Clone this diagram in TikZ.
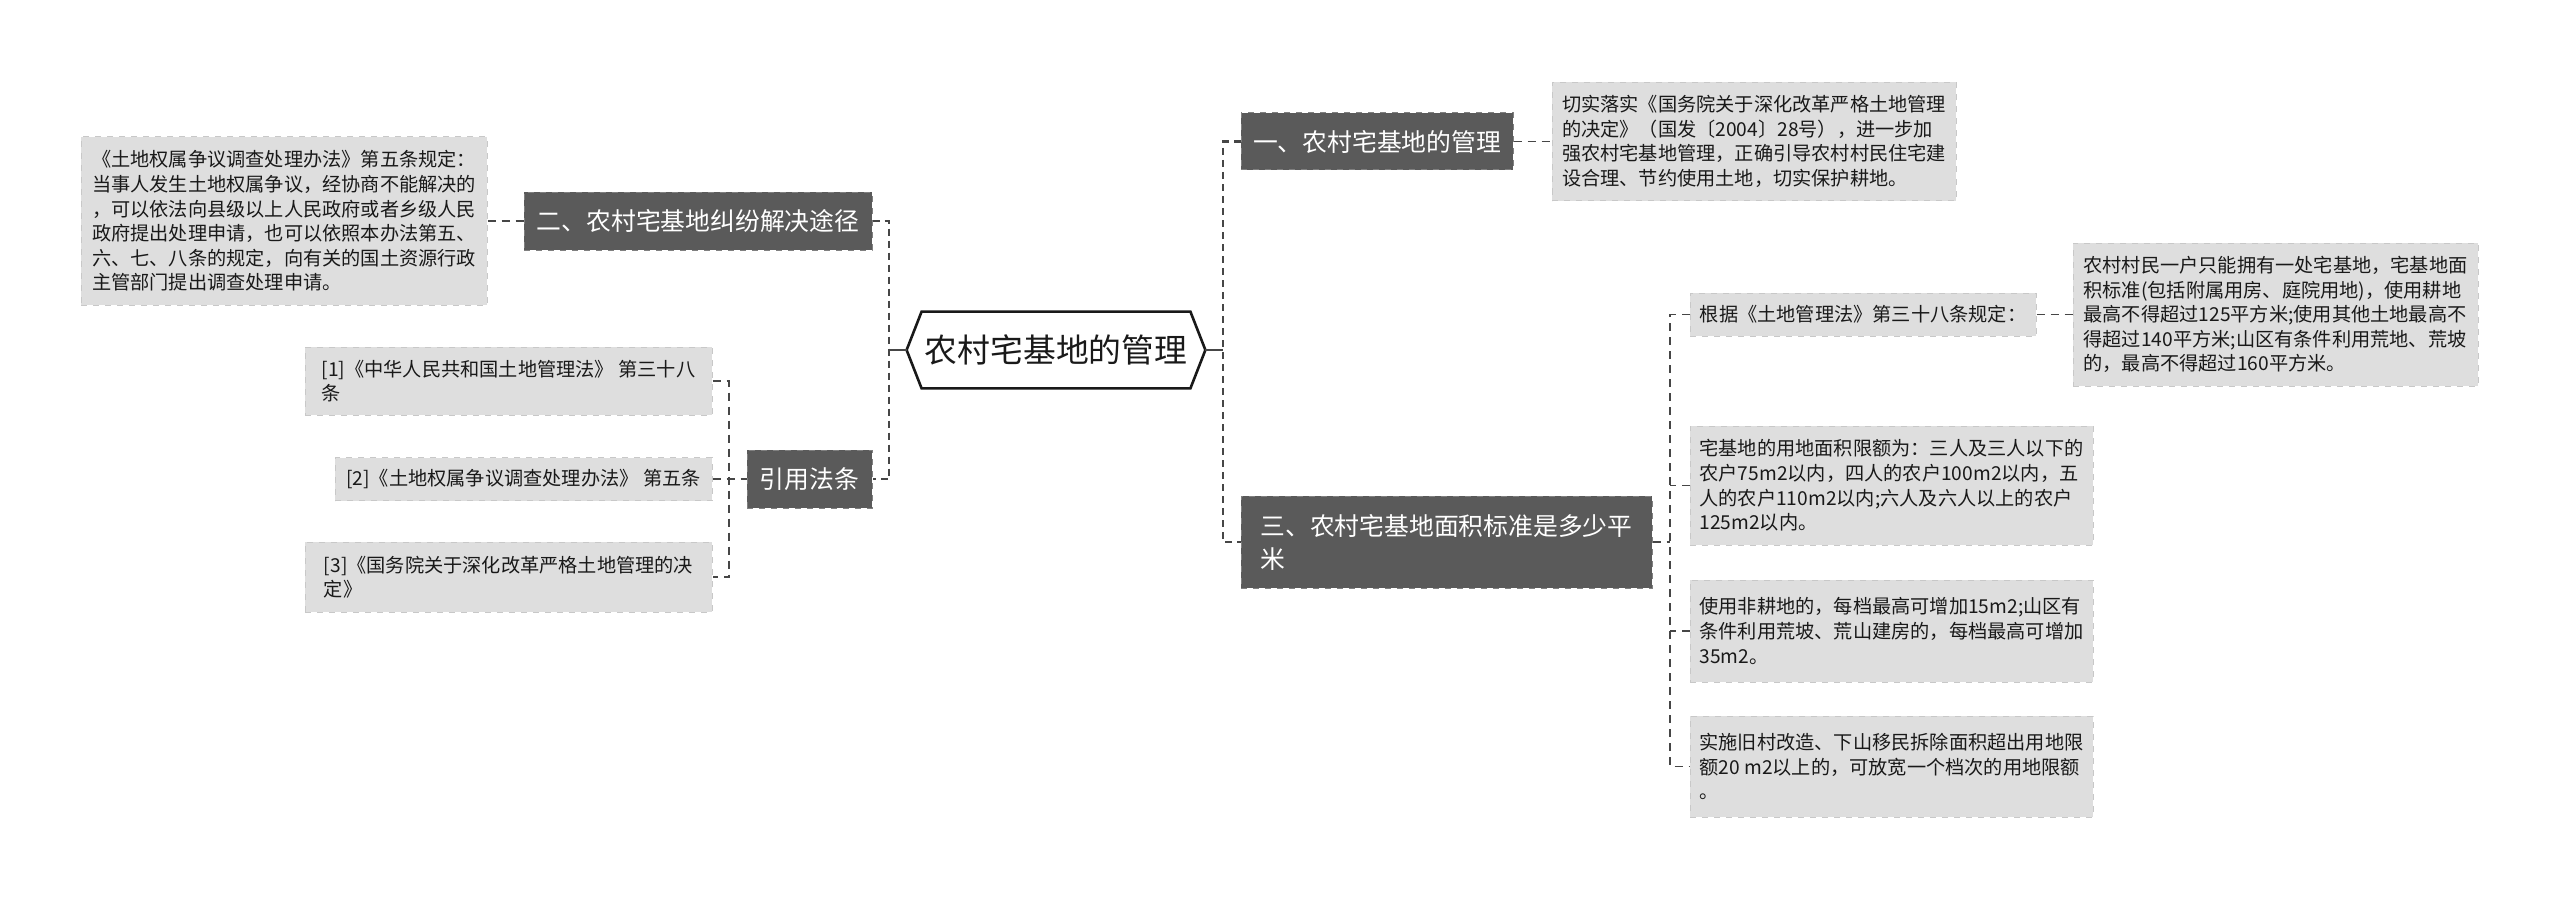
\documentclass[tikz,border=0pt]{standalone}
\usepackage{fontspec}
\setmainfont{Noto Sans CJK SC}
\usetikzlibrary{positioning}
\definecolor{secfill}{RGB}{90,90,90}
\definecolor{secedge}{RGB}{128,128,128}
\definecolor{leaffill}{RGB}{222,222,222}
\definecolor{leafedge}{RGB}{200,200,200}
\definecolor{lnclr}{RGB}{70,70,70}
\definecolor{txtclr}{RGB}{25,25,25}
\tikzset{
  rootblk/.style={minimum width=149pt,minimum height=38pt,inner sep=0pt,font=\fontsize{16.4pt}{20pt}\selectfont,text=black!90},
  hexln/.style={draw=black!90,line width=1.3pt,line join=miter},
  secblk/.style={draw=secedge,dashed,fill=secfill,text=white,line width=0.5pt,align=left,inner sep=4pt,font=\fontsize{12.4pt}{16.5pt}\selectfont},
  leafblk/.style={draw=leafedge,dashed,fill=leaffill,text=txtclr,line width=0.5pt,align=left,inner sep=3pt,font=\fontsize{9.6pt}{12.3pt}\selectfont},
  trkln/.style={draw=lnclr,line width=1.4pt,dash pattern=on 3.5pt off 2.5pt},
  twgln/.style={draw=lnclr,line width=0.85pt,dash pattern=on 4pt off 3pt},
  stbln/.style={draw=lnclr,line width=1.3pt}
}

\begin{document}
\begin{tikzpicture}[x=0.5pt,y=-0.5pt]
  \useasboundingbox (0,0) rectangle (2560,899);

  \node[rootblk] (root) at (1056,350) {农村宅基地的管理};
  \draw[hexln] (root.west) -- ([xshift=7.5pt]root.north west) -- ([xshift=-7.5pt]root.north east) -- (root.east) -- ([xshift=-7.5pt]root.south east) -- ([xshift=7.5pt]root.south west) -- cycle;

  \node[secblk,minimum width=174pt,minimum height=29pt] (sec2) at (698,221) {二、农村宅基地纠纷解决途径};
  \node[leafblk,minimum width=203pt,minimum height=84pt,left=18pt of sec2] (sec2txt) {《土地权属争议调查处理办法》第五条规定：\\当事人发生土地权属争议，经协商不能解决的\\，可以依法向县级以上人民政府或者乡级人民\\政府提出处理申请，也可以依照本办法第五、\\六、七、八条的规定，向有关的国土资源行政\\主管部门提出调查处理申请。};

  \node[secblk,minimum width=62.5pt,minimum height=29pt] (cite) at (809.5,479) {引用法条};
  \node[leafblk,minimum width=203.5pt,minimum height=34pt] (cite1) at (508.5,381) {[1]《中华人民共和国土地管理法》 第三十八\\条};
  \node[leafblk,minimum width=188.5pt,minimum height=21.5pt] (cite2) at (523.5,479) {[2]《土地权属争议调查处理办法》 第五条};
  \node[leafblk,minimum width=203.5pt,minimum height=35pt] (cite3) at (508.5,577) {[3]《国务院关于深化改革严格土地管理的决\\定》};

  \node[secblk,minimum width=136pt,minimum height=28.5pt] (sec1) at (1377,141.5) {一、农村宅基地的管理};
  \node[leafblk,minimum width=202pt,minimum height=59pt,right=19pt of sec1] (sec1txt) {切实落实《国务院关于深化改革严格土地管理\\的决定》（国发〔2004〕28号），进一步加\\强农村宅基地管理，正确引导农村村民住宅建\\设合理、节约使用土地，切实保护耕地。};

  \node[secblk,minimum width=205.5pt,minimum height=46pt] (sec3) at (1446.5,542) {三、农村宅基地面积标准是多少平\\米};
  \node[leafblk,minimum width=173pt,minimum height=21.5pt] (std1) at (1863,314.5) {根据《土地管理法》第三十八条规定：};
  \node[leafblk,minimum width=202.5pt,minimum height=71.5pt,right=18pt of std1] (std1txt) {农村村民一户只能拥有一处宅基地，宅基地面\\积标准(包括附属用房、庭院用地)，使用耕地\\最高不得超过125平方米;使用其他土地最高不\\得超过140平方米;山区有条件利用荒地、荒坡\\的，最高不得超过160平方米。};
  \node[leafblk,minimum width=201.5pt,minimum height=59.5pt] (std2) at (1891.5,485.5) {宅基地的用地面积限额为：三人及三人以下的\\农户75m2以内，四人的农户100m2以内，五\\人的农户110m2以内;六人及六人以上的农户\\125m2以内。};
  \node[leafblk,minimum width=201.5pt,minimum height=51pt] (std3) at (1891.5,631) {使用非耕地的，每档最高可增加15m2;山区有\\条件利用荒坡、荒山建房的，每档最高可增加\\35m2。};
  \node[leafblk,minimum width=201.5pt,minimum height=50.5pt] (std4) at (1891.5,766.5) {实施旧村改造、下山移民拆除面积超出用地限\\额20 m2以上的，可放宽一个档次的用地限额\\。};

  \coordinate (ltrk) at (889,350);
  \coordinate (rtrk) at (1223,350);
  \coordinate (cbr) at (729,479);
  \coordinate (sbr) at (1670,542);

  \draw[stbln] (root.west) -- (ltrk);
  \draw[stbln] (root.east) -- (rtrk);
  \draw[trkln] (sec2.east) -| (ltrk) |- (cite.east);
  \draw[trkln] (sec1.west) -| (rtrk) |- (sec3.west);

  \draw[twgln] (sec2txt.east) -- (sec2.west);
  \draw[twgln] (sec1.east) -- (sec1txt.west);
  \draw[twgln] (std1.east) -- (std1txt.west);

  \draw[twgln] (cite1.east) -| (cbr) |- (cite3.east);
  \draw[twgln] (cite2.east) -- (cite.west);

  \draw[twgln] (std1.west) -| (sbr) |- (std4.west);
  \draw[twgln] (sec3.east) -- (sbr);
  \draw[twgln] (std2.west) -- (std2.west -| sbr);
  \draw[twgln] (std3.west) -- (std3.west -| sbr);
\end{tikzpicture}
\end{document}
